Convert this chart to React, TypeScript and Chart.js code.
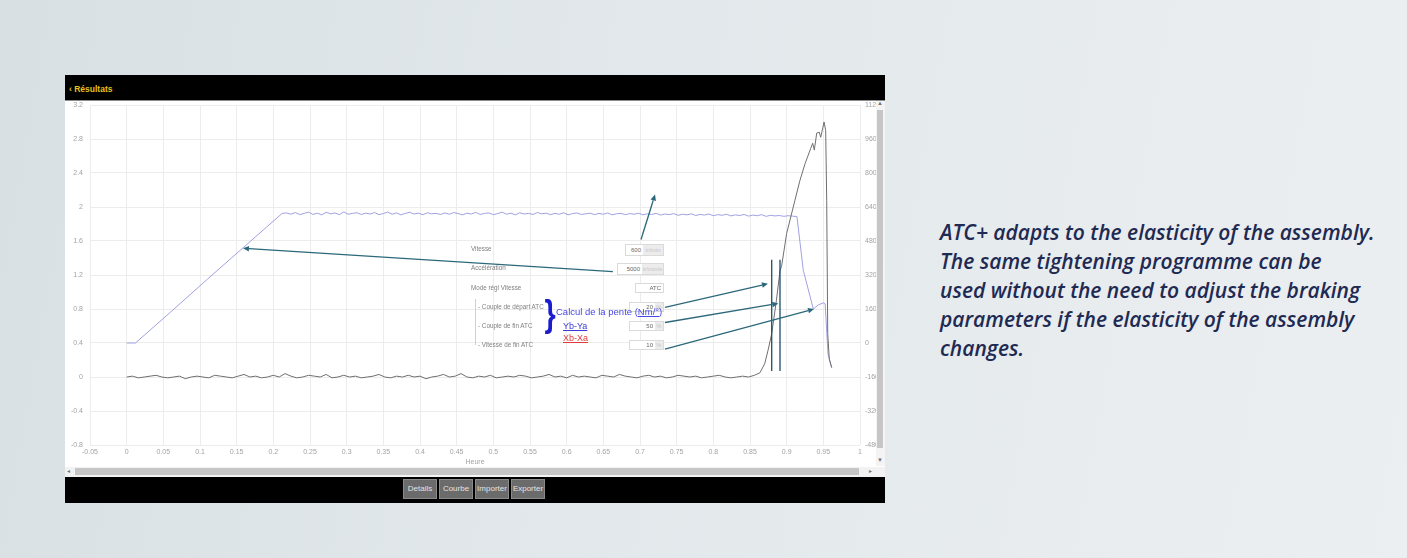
import React, { useEffect, useRef } from "react";
import { Chart, registerables } from "chart.js";

Chart.register(...registerables);

// ---- axes ----
const X_MIN = -0.05;
const X_MAX = 1;
const X_STEP = 0.05;
const LEFT_MIN = -0.8;
const LEFT_MAX = 3.2;
const LEFT_STEP = 0.4;
const RIGHT_MIN = -480;
const RIGHT_MAX = 1120;
const RIGHT_STEP = 160;

// ---- torque (left axis) ----
const TORQUE_NOISE_DT = 0.008;
const TORQUE_NOISE = [
  0.0, 0.01, -0.01, 0.0, 0.01, 0.02, 0.0, -0.01, 0.0, 0.01, -0.02, 0.0, 0.01, 0.0, -0.01, 0.02, 0.01, 0.0, -0.01, 0.01,
  0.03, 0.0, 0.01, -0.01, 0.0, 0.02, 0.0, 0.04, 0.01, -0.01, 0.0, 0.02, 0.01, 0.0, 0.03, -0.01, 0.0, 0.02, 0.0, 0.01,
  -0.01, 0.0, 0.01, 0.03, 0.0, -0.01, 0.01, 0.0, 0.02, 0.0, 0.01, -0.02, 0.0, 0.01, 0.03, 0.0, 0.01, 0.04, 0.0, -0.01,
  0.01, 0.0, 0.02, -0.01, 0.0, 0.01, 0.0, 0.02, 0.01, -0.01, 0.0, 0.01, 0.03, 0.0, 0.01, -0.01, 0.02, 0.0, 0.01, 0.0,
  -0.01, 0.02, 0.01, 0.0, 0.03, 0.01, 0.0, -0.01, 0.01, 0.02, 0.0, 0.01, -0.01, 0.0, 0.02, 0.01, 0.0, 0.01, -0.01, 0.0,
  0.01, 0.02, 0.0, -0.01, 0.0, 0.01, 0.0,
];
const TORQUE_RISE_T = [
  0.856, 0.8636, 0.87, 0.8745, 0.8796, 0.886, 0.8909, 0.8932, 0.9, 0.9113, 0.918, 0.9251, 0.9328, 0.9355, 0.9377,
  0.941, 0.9445, 0.9464, 0.951, 0.9532, 0.9546, 0.956, 0.9581, 0.9614,
];
const TORQUE_RISE_Y = [
  0.02, 0.05, 0.155, 0.31, 0.51, 0.9, 1.25, 1.31, 1.69, 2.08, 2.31, 2.51, 2.69, 2.75, 2.67, 2.87, 2.88, 2.82, 3.0,
  2.9, 2.08, 0.51, 0.21, 0.11,
];

// ---- speed (right axis) ----
const SPEED_START_T = [0, 0.012, 0.06, 0.11, 0.16, 0.212];
const SPEED_START_V = [0, 0, 146, 300, 452, 610];
const SPEED_PLATEAU_T0 = 0.218;
const SPEED_PLATEAU_DT = 0.006;
const SPEED_PLATEAU = [
  612, 606, 614, 604, 610, 616, 605, 611, 603, 615, 608, 612, 604, 617, 606, 610, 613, 605, 611, 607,
  614, 604, 609, 616, 606, 612, 603, 610, 615, 607, 611, 604, 613, 608, 610, 605, 612, 606, 614, 609,
  603, 611, 607, 615, 605, 610, 612, 604, 609, 616, 606, 611, 603, 613, 607, 610, 605, 614, 608, 611,
  604, 610, 606, 613, 603, 609, 612, 605, 608, 611, 604, 610, 606, 612, 603, 608, 610, 604, 609, 606,
  611, 603, 608, 605, 610, 602, 607, 604, 609, 601, 606, 603, 608, 600, 605, 602, 607, 599, 604, 601,
  606, 598, 603, 600, 605, 597, 602, 599, 604, 596, 601, 598, 600, 596, 599, 597, 595,
];
const SPEED_END_T = [0.9227, 0.9364, 0.9432, 0.9505, 0.9525, 0.9564, 0.9614];
const SPEED_END_V = [341, 160, 180, 189, 184, -52, -115];

// ---- annotation marks (data coordinates, left axis) ----
const MARKER_T = [0.8796, 0.8909];
const MARKER_Y_LOW = 0.07;
const MARKER_Y_HIGH = 1.38;
const ARROW_FROM_T = [0.663, 0.7014, 0.734, 0.734, 0.734];
const ARROW_FROM_Y = [1.239, 1.617, 0.818, 0.641, 0.327];
const ARROW_TO_T = [0.1586, 0.7205, 0.8745, 0.8886, 0.9373];
const ARROW_TO_Y = [1.514, 2.147, 1.097, 0.865, 0.799];

const ARROW_COLOR = "#2c687b";
const TICK_FONT = { family: "Liberation Sans, Arial, sans-serif", size: 7 };
const TICK_COLOR = "#a3a3a3";

const arrowPlugin = {
  id: "atcArrows",
  afterDatasetsDraw(chart: any) {
    const xs = chart.scales.x;
    const ys = chart.scales.y;
    const ctx = chart.ctx;
    ctx.save();
    ctx.strokeStyle = ARROW_COLOR;
    ctx.fillStyle = ARROW_COLOR;
    ctx.lineWidth = 1.3;
    for (let i = 0; i < ARROW_FROM_T.length; i++) {
      const x1 = xs.getPixelForValue(ARROW_FROM_T[i]);
      const y1 = ys.getPixelForValue(ARROW_FROM_Y[i]);
      const x2 = xs.getPixelForValue(ARROW_TO_T[i]);
      const y2 = ys.getPixelForValue(ARROW_TO_Y[i]);
      const a = Math.atan2(y2 - y1, x2 - x1);
      const hl = 6;
      const hw = 2.8;
      const bx = x2 - hl * Math.cos(a);
      const by = y2 - hl * Math.sin(a);
      ctx.beginPath();
      ctx.moveTo(x1, y1);
      ctx.lineTo(bx, by);
      ctx.stroke();
      ctx.beginPath();
      ctx.moveTo(x2, y2);
      ctx.lineTo(bx + hw * Math.sin(a), by - hw * Math.cos(a));
      ctx.lineTo(bx - hw * Math.sin(a), by + hw * Math.cos(a));
      ctx.closePath();
      ctx.fill();
    }
    ctx.restore();
  },
};

function ChartCanvas() {
  const ref = useRef<HTMLCanvasElement | null>(null);
  useEffect(() => {
    if (!ref.current) return;
    const torque = [
      ...TORQUE_NOISE.map((v, i) => ({ x: i * TORQUE_NOISE_DT, y: v })),
      ...TORQUE_RISE_T.map((t, i) => ({ x: t, y: TORQUE_RISE_Y[i] })),
    ];
    const speed = [
      ...SPEED_START_T.map((t, i) => ({ x: t, y: SPEED_START_V[i] })),
      ...SPEED_PLATEAU.map((v, i) => ({ x: SPEED_PLATEAU_T0 + i * SPEED_PLATEAU_DT, y: v })),
      ...SPEED_END_T.map((t, i) => ({ x: t, y: SPEED_END_V[i] })),
    ];
    const markers = MARKER_T.map((t) => ({
      data: [
        { x: t, y: MARKER_Y_LOW },
        { x: t, y: MARKER_Y_HIGH },
      ],
      borderColor: "#1f4e64",
      borderWidth: 1.3,
      yAxisID: "y",
      pointRadius: 0,
      order: 0,
    }));
    const vFit = (w: number) => (s: any) => {
      s.width = w;
      s.paddingTop = 0;
      s.paddingBottom = 0;
    };
    const chart = new Chart(ref.current, {
      type: "line",
      data: {
        datasets: [
          { label: "Couple", data: torque, borderColor: "#6f6f6f", borderWidth: 1, yAxisID: "y", pointRadius: 0, order: 1 },
          { label: "Vitesse", data: speed, borderColor: "#a0a0e2", borderWidth: 1, yAxisID: "y1", pointRadius: 0, order: 2 },
          ...markers,
        ] as any,
      },
      options: {
        animation: false,
        responsive: false,
        events: [],
        layout: { padding: { top: 5, left: 0, right: 0, bottom: 0 } },
        elements: { line: { tension: 0 }, point: { radius: 0 } },
        plugins: { legend: { display: false }, tooltip: { enabled: false } },
        scales: {
          x: {
            type: "linear",
            min: X_MIN,
            max: X_MAX,
            border: { display: false },
            grid: { color: "#ececec", drawTicks: false },
            ticks: {
              stepSize: X_STEP,
              autoSkip: false,
              maxRotation: 0,
              padding: 3,
              font: TICK_FONT,
              color: TICK_COLOR,
              callback: (v: any) => String(Math.round(Number(v) * 100) / 100),
            },
            title: { display: true, text: "Heure", font: TICK_FONT, color: TICK_COLOR, padding: 0 },
            afterFit: (s: any) => {
              s.height = 21;
            },
          },
          y: {
            type: "linear",
            position: "left",
            min: LEFT_MIN,
            max: LEFT_MAX,
            border: { display: false },
            grid: { color: "#ececec", drawTicks: false },
            ticks: {
              stepSize: LEFT_STEP,
              padding: 7,
              font: TICK_FONT,
              color: TICK_COLOR,
              callback: (v: any) => String(Math.round(Number(v) * 10) / 10),
            },
            afterFit: vFit(25),
          },
          y1: {
            type: "linear",
            position: "right",
            min: RIGHT_MIN,
            max: RIGHT_MAX,
            border: { display: false },
            grid: { drawOnChartArea: false, drawTicks: false },
            ticks: {
              stepSize: RIGHT_STEP,
              padding: 5,
              font: TICK_FONT,
              color: TICK_COLOR,
              callback: (v: any) => String(Math.round(Number(v))),
            },
            afterFit: vFit(16),
          },
        },
      } as any,
      plugins: [arrowPlugin],
    });
    return () => chart.destroy();
  }, []);
  return <canvas ref={ref} width={811} height={366} style={{ display: "block", width: 811, height: 366 }} />;
}

const abs = (l: number, t: number, w: number, h: number): React.CSSProperties => ({
  position: "absolute",
  left: l,
  top: t,
  width: w,
  height: h,
});

function Label({ x, y, text }: { x: number; y: number; text: string }) {
  return (
    <div style={{ position: "absolute", left: x, top: y - 5, height: 10, lineHeight: "10px", fontSize: 6.3, color: "#808080", whiteSpace: "nowrap" }}>
      {text}
    </div>
  );
}

function Field({ x, y, w, h, value, unit, unitW }: { x: number; y: number; w: number; h: number; value: string; unit?: string; unitW?: number }) {
  const uw = unit ? unitW || 20 : 0;
  return (
    <div style={{ ...abs(x, y, w, h), background: "#fff", border: "1px solid #dadada", boxSizing: "border-box", fontSize: 6, lineHeight: `${h - 2}px`, color: "#666" }}>
      <div style={{ position: "absolute", right: uw + 2, top: 0, whiteSpace: "nowrap" }}>{value}</div>
      {unit ? (
        <div style={{ position: "absolute", right: 0, top: 0, width: uw, height: h - 2, background: "#ececec", color: "#c4c4c4", textAlign: "center", whiteSpace: "nowrap", overflow: "hidden" }}>
          {unit}
        </div>
      ) : null}
    </div>
  );
}

function Button({ x, w, text }: { x: number; w: number; text: string }) {
  return (
    <div style={{ ...abs(x, 479, w, 20), background: "#6b6b6b", border: "1px solid #8a8a8a", boxSizing: "border-box", color: "#e2e2e2", fontSize: 8, lineHeight: "18px", textAlign: "center" }}>
      {text}
    </div>
  );
}

export default function App() {
  return (
    <div
      style={{
        position: "absolute",
        left: 0,
        top: 0,
        width: 1407,
        height: 558,
        overflow: "hidden",
        background: "linear-gradient(100deg, #d9e0e4 0%, #e2e8eb 45%, #eceff2 100%)",
        fontFamily: "Liberation Sans, Arial, sans-serif",
      }}
    >
      {/* header */}
      <div style={{ ...abs(65, 75, 820, 25), background: "#000" }} />
      <div style={{ ...abs(65, 100, 820, 1), background: "#8c8c8c" }} />
      <div style={{ position: "absolute", left: 69, top: 84, fontSize: 8.5, fontWeight: 700, color: "#e8c21a", lineHeight: "10px" }}>‹ Résultats</div>
      {/* chart body */}
      <div style={{ ...abs(65, 101, 820, 376), background: "#fff" }} />
      <div style={{ ...abs(65, 100, 811, 366) }}>
        <ChartCanvas />
      </div>
      {/* vertical scrollbar */}
      <div style={{ ...abs(876, 101, 9, 365), background: "#f4f4f4" }} />
      <div style={{ ...abs(877, 110, 6, 338), background: "#c6c6c6" }} />
      <div style={{ position: "absolute", left: 877, top: 100, fontSize: 6, color: "#777" }}>▲</div>
      <div style={{ position: "absolute", left: 877, top: 457, fontSize: 6, color: "#777" }}>▼</div>
      {/* horizontal scrollbar */}
      <div style={{ ...abs(65, 467, 820, 10), background: "#f2f2f2" }} />
      <div style={{ ...abs(75, 468, 784, 7), background: "#c6c6c6" }} />
      <div style={{ position: "absolute", left: 67, top: 467, fontSize: 6, color: "#777" }}>◂</div>
      <div style={{ position: "absolute", left: 869, top: 467, fontSize: 6, color: "#777" }}>▸</div>
      {/* footer */}
      <div style={{ ...abs(65, 477, 820, 26), background: "#000" }} />
      <Button x={403} w={34} text="Details" />
      <Button x={439} w={34} text="Courbe" />
      <Button x={475} w={34} text="Importer" />
      <Button x={511} w={34} text="Exporter" />

      {/* settings form overlay */}
      <Label x={471} y={249} text="Vitesse" />
      <Label x={471} y={268} text="Accélération" />
      <Label x={471} y={288} text="Mode régl Vitesse" />
      <div style={{ ...abs(475, 299, 1, 46), background: "#d0d0d0" }} />
      <Label x={478} y={307} text="- Couple de départ ATC" />
      <Label x={478} y={326} text="- Couple de fin ATC" />
      <Label x={478} y={345} text="- Vitesse de fin ATC" />
      <Field x={625} y={244} w={39} h={12} value="600" unit="tr/min" unitW={20} />
      <Field x={617} y={263} w={47} h={12} value="5000" unit="tr/min/s" unitW={21} />
      <Field x={635} y={283} w={29} h={10} value="ATC" />
      <Field x={629} y={302} w={35} h={10} value="20" unit="%" unitW={8} />
      <Field x={629} y={321} w={35} h={10} value="50" unit="%" unitW={8} />
      <Field x={629} y={340} w={35} h={10} value="10" unit="%" unitW={8} />

      <div style={{ position: "absolute", left: 543, top: 294, fontSize: 36, lineHeight: "40px", fontWeight: 700, color: "#1b1bd0", transform: "scaleX(0.8)" }}>{"}"}</div>
      <div style={{ position: "absolute", left: 556, top: 306, fontSize: 9.5, lineHeight: "11px", color: "#4848e0", whiteSpace: "nowrap" }}>
        Calcul de la pente (<span style={{ textDecoration: "underline" }}>Nm/°</span>)
      </div>
      <div style={{ position: "absolute", left: 563, top: 321, fontSize: 9, lineHeight: "11px", color: "#3a3ad8", textDecoration: "underline" }}>Yb-Ya</div>
      <div style={{ position: "absolute", left: 563, top: 333, fontSize: 9, lineHeight: "11px", color: "#e03a3a", textDecoration: "underline" }}>Xb-Xa</div>

      {/* caption */}
      <div
        style={{
          position: "absolute",
          left: 940,
          top: 218,
          fontFamily: "'Open Sans', sans-serif",
          fontStyle: "italic",
          fontWeight: 600,
          fontSize: 21,
          lineHeight: "29px",
          color: "#1f2a52",
          whiteSpace: "nowrap",
        }}
      >
        ATC+ adapts to the elasticity of the assembly.
        <br />
        The same tightening programme can be
        <br />
        used without the need to adjust the braking
        <br />
        parameters if the elasticity of the assembly
        <br />
        changes.
      </div>
    </div>
  );
}
